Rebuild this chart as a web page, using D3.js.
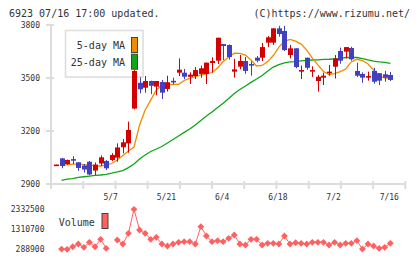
<!DOCTYPE html>
<html><head><meta charset="utf-8">
<script src="https://cdn.jsdelivr.net/npm/d3@7"></script>
<style>html,body{margin:0;padding:0;background:#fff;} svg{display:block;}</style>
</head><body><svg id="c" width="420" height="259"></svg>
<script>
const opens  = [3006,3045,3013,3041,3023,3005,3026,2976,3016,3030,3036,3049,3108,3130,3327,3473,3445,3483,3451,3477,3438,3484,3530,3530,3507,3511,3523,3523,3585,3598,3692,3687,3536,3564,3596,3579,3615,3615,3700,3700,3781,3766,3630,3668,3540,3615,3540,3483,3502,3528,3564,3653,3649,3670,3540,3523,3502,3540,3527,3521,3517];
const highs  = [3010,3047,3038,3058,3023,3013,3030,3022,3062,3036,3075,3130,3155,3253,3545,3504,3511,3485,3483,3489,3513,3502,3611,3551,3532,3562,3570,3587,3617,3728,3692,3690,3609,3630,3619,3594,3624,3698,3738,3781,3795,3795,3687,3668,3570,3615,3566,3517,3530,3574,3630,3672,3675,3677,3587,3532,3536,3558,3527,3540,3534];
const lows   = [3006,2989,3008,3013,2974,2965,2950,2951,3002,2979,3030,3026,3074,3077,3322,3413,3417,3409,3402,3381,3423,3464,3511,3493,3466,3494,3502,3466,3530,3579,3602,3604,3502,3549,3524,3513,3589,3596,3675,3687,3734,3653,3611,3555,3494,3547,3506,3423,3460,3513,3497,3581,3611,3598,3506,3473,3485,3468,3460,3479,3483];
const closes = [3010,3002,3036,3039,2991,2982,2954,3010,3051,2989,3064,3107,3136,3206,3540,3436,3483,3456,3483,3417,3476,3482,3547,3507,3519,3545,3555,3587,3596,3728,3681,3619,3549,3596,3540,3570,3598,3675,3730,3781,3749,3658,3668,3562,3545,3558,3545,3507,3513,3536,3611,3598,3675,3606,3513,3502,3511,3479,3485,3502,3489];
const ma5    = [null,3004,3010,3013,3013,3010,3008,3002,3002,3008,3016,3036,3061,3087,3109,3234,3319,3375,3432,3460,3463,3464,3464,3486,3498,3508,3517,3523,3531,3557,3593,3619,3640,3639,3630,3602,3568,3571,3593,3627,3675,3707,3718,3709,3692,3658,3613,3574,3537,3520,3525,3536,3551,3591,3606,3599,3579,3545,3514,3500,3500];
const ma25   = [null,2921,2927,2931,2937,2941,2945,2949,2951,2955,2961,2968,2976,2993,3013,3042,3064,3084,3098,3112,3132,3152,3172,3192,3211,3234,3259,3285,3308,3333,3357,3384,3412,3435,3455,3475,3494,3514,3540,3562,3576,3585,3591,3593,3597,3600,3602,3603,3605,3606,3608,3610,3616,3617,3616,3610,3602,3596,3591,3588,3583];
const volumes = [null,300000,288900,420000,560000,390000,646000,420000,800000,340000,null,764000,560000,1106000,2332500,1275000,1106000,800000,902000,560000,457000,560000,646000,677000,677000,560000,1444000,968000,677000,728000,677000,851000,1019000,560000,509000,800000,800000,509000,595000,595000,560000,968000,560000,628000,595000,560000,646000,646000,646000,509000,646000,509000,595000,595000,728000,304000,560000,457000,340000,391000,595000];
const priceTicks = [2900,3200,3500,3800];
const volumeTicks = [288900,1310700,2332500];
const dateLabels = ["5/7","5/21","6/4","6/18","7/2","7/16"];
const dateLabelIndex = [10,20,30,40,50,60];
const legendNames = ["5-day MA","25-day MA"];

const UP = "#d40000", DOWN = "#4040c0", C5 = "#f08c00", C25 = "#10a518", VOL = "#ff6060", AXIS = "#dcdcdc", TXT = "#333";
const mono = "'DejaVu Sans Mono', monospace";

const svg = d3.select("#c");
const n = closes.length;
const x = d3.scaleLinear().domain([0, n - 1]).range([56, 390.3]);
const y = d3.scaleLinear().domain([2900, 3800]).range([184, 25]);
const yv = d3.scaleLinear().domain([288900, 2332500]).range([249.3, 209.3]);
const gx = d3.scaleLinear().domain([0, 11]).range([51, 405.3]);

// title
svg.append("text").attr("x", 9).attr("y", 16.5).attr("font-family", mono).attr("font-size", 10).attr("fill", TXT).text("6923 07/16 17:00 updated.");
svg.append("text").attr("x", 410).attr("y", 16.5).attr("text-anchor", "end").attr("font-family", mono).attr("font-size", 10).attr("fill", TXT).text("(C)https://www.rizumu.net/");

// axes
const ax = svg.append("g").attr("stroke", AXIS).attr("stroke-width", 2);
ax.append("line").attr("x1", 51).attr("x2", 51).attr("y1", y(3800)).attr("y2", 189);
ax.append("line").attr("x1", 51).attr("x2", gx(11)).attr("y1", y(2900)).attr("y2", y(2900));
ax.selectAll(".yt").data(priceTicks).enter().append("line").attr("x1", 46).attr("x2", 54).attr("y1", d => y(d)).attr("y2", d => y(d));
ax.selectAll(".xt").data(d3.range(1, 12)).enter().append("line").attr("x1", d => gx(d)).attr("x2", d => gx(d)).attr("y1", 181).attr("y2", 189);

svg.selectAll(".yl").data(priceTicks).enter().append("text")
  .attr("x", 40).attr("y", d => y(d) + 2.8).attr("text-anchor", "end")
  .attr("font-family", mono).attr("font-size", 8).attr("fill", TXT).text(d => d);

svg.selectAll(".xl").data(dateLabels).enter().append("text")
  .attr("x", (d, i) => x(dateLabelIndex[i]) - 1).attr("y", 200.3).attr("text-anchor", "middle")
  .attr("font-family", mono).attr("font-size", 8).attr("fill", TXT).text(d => d);

// legend
const lg = svg.append("g");
lg.append("rect").attr("x", 65.5).attr("y", 30.5).attr("width", 77.5).attr("height", 46.5).attr("fill", "#fff").attr("stroke", AXIS).attr("stroke-width", 1.5);
[C5, C25].forEach((c, i) => {
  lg.append("text").attr("x", 125).attr("y", 48.7 + i * 17).attr("text-anchor", "end").attr("font-family", mono).attr("font-size", 10).attr("fill", TXT).text(legendNames[i]);
  lg.append("rect").attr("x", 131.5).attr("y", 37.5 + i * 16.7).attr("width", 6).attr("height", 15).attr("fill", c).attr("stroke", "#444").attr("stroke-width", 1);
});

// MA lines
const line = d3.line().defined(d => d[1] != null).x(d => x(d[0])).y(d => y(d[1]));
svg.append("path").attr("d", line(ma25.map((v, i) => [i, v]))).attr("fill", "none").attr("stroke", C25).attr("stroke-width", 1.3);
svg.append("path").attr("d", line(ma5.map((v, i) => [i, v]))).attr("fill", "none").attr("stroke", C5).attr("stroke-width", 1.3);

// candles
const cg = svg.append("g");
for (let i = 0; i < n; i++) {
  const up = closes[i] > opens[i];
  const col = up ? UP : DOWN;
  const cx = Math.round(x(i));
  cg.append("line").attr("x1", cx + 0.5).attr("x2", cx + 0.5).attr("y1", y(highs[i])).attr("y2", y(lows[i])).attr("stroke", col).attr("stroke-width", 1);
  const top = y(Math.max(opens[i], closes[i]));
  const h = Math.max(1.6, Math.abs(y(opens[i]) - y(closes[i])));
  cg.append("rect").attr("x", cx - 2).attr("y", top).attr("width", 5).attr("height", h).attr("fill", col);
}

// volume
svg.selectAll(".vl").data(volumeTicks).enter().append("text")
  .attr("x", 44.5).attr("y", d => yv(d) + 2.8).attr("text-anchor", "end")
  .attr("font-family", mono).attr("font-size", 8).attr("fill", TXT).text(d => d);
svg.append("text").attr("x", 58.7).attr("y", 226).attr("font-family", mono).attr("font-size", 10).attr("fill", TXT).text("Volume");
svg.append("rect").attr("x", 102).attr("y", 213.5).attr("width", 6).attr("height", 15).attr("fill", VOL).attr("stroke", "#444").attr("stroke-width", 1);

const vline = d3.line().defined(d => d[1] != null).x(d => x(d[0])).y(d => yv(d[1]));
svg.append("path").attr("d", vline(volumes.map((v, i) => [i, v]))).attr("fill", "none").attr("stroke", VOL).attr("stroke-width", 1);
const vp = volumes.map((v, i) => [i, v]).filter(d => d[1] != null);
svg.selectAll(".vm").data(vp).enter().append("path")
  .attr("d", d => { const px = x(d[0]), py = yv(d[1]), r = 3.4; return `M${px},${py - r}L${px + r},${py}L${px},${py + r}L${px - r},${py}Z`; })
  .attr("fill", VOL);
</script></body></html>
